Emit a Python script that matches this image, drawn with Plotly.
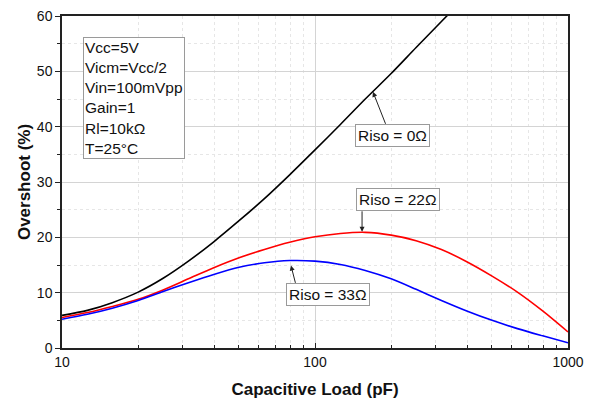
import plotly.graph_objects as go

# --------------------------------------------------
# DATA
# --------------------------------------------------

# capacitive load in pF, evenly spaced on the log axis
cap_load = [10, 12.6, 15.8, 20, 25.1, 31.6, 39.8, 50.1, 63.1, 79.4,
            100, 126, 158, 200, 251, 316, 398, 501, 631, 794, 1000]

overshoot_0 = [5.9, 6.8, 8.2, 10.1, 12.6, 15.7, 19.2, 23.0, 27.0, 31.3,
               35.8, 40.4, 45.0, 49.6, 54.3, 59.0, 63.7, None, None, None, None]
overshoot_22 = [5.5, 6.4, 7.5, 8.8, 10.5, 12.5, 14.5, 16.3, 17.8, 19.1,
                20.1, 20.7, 20.9, 20.4, 19.4, 17.8, 15.6, 13.0, 10.1, 6.7, 2.9]
overshoot_33 = [5.2, 6.1, 7.2, 8.6, 10.2, 11.8, 13.3, 14.6, 15.4, 15.8,
                15.7, 15.1, 14.0, 12.5, 10.6, 8.6, 6.7, 5.0, 3.5, 2.2, 0.95]

conditions = ["Vcc=5V", "Vicm=Vcc/2", "Vin=100mVpp", "Gain=1", "Rl=10kΩ", "T=25°C"]

FONT = "Liberation Sans, Arial, sans-serif"

# --------------------------------------------------
# FIGURE
# --------------------------------------------------

fig = go.Figure()

for y, color in [
    (overshoot_0, "#000000"),
    (overshoot_22, "#ff0000"),
    (overshoot_33, "#0000ff"),
]:
    fig.add_trace(
        go.Scatter(
            x=cap_load, y=y, mode="lines",
            line=dict(color=color, width=1.6, shape="spline", smoothing=0.8),
            showlegend=False
        )
    )

# conditions box
fig.add_annotation(
    text="<br>".join(conditions),
    xref="paper", yref="paper", x=0.0415, y=0.936,
    xanchor="left", yanchor="top", align="left", showarrow=False,
    font=dict(family=FONT, size=15.5, color="#111"),
    bordercolor="#9a9a9a", borderwidth=1, borderpad=1, bgcolor="white"
)

# label boxes (x in log10 units)
labels = [("Riso = 0Ω", 2.306, 38.4), ("Riso = 22Ω", 2.328, 26.9), ("Riso = 33Ω", 2.051, 9.7)]
for text, lx, ly in labels:
    fig.add_annotation(
        text=text, x=lx, y=ly, showarrow=False,
        font=dict(family=FONT, size=15.5, color="#111"),
        bordercolor="#9a9a9a", borderwidth=1, borderpad=2, bgcolor="white"
    )

# arrows: tip in data coords, tail offset in pixels
arrows = [(2.229, 46.3, 13, 33), (2.186, 21.0, 0, -21.5), (1.905, 14.9, 4.7, 18.3)]
for tx, ty, ax, ay in arrows:
    fig.add_annotation(
        text=" ", x=tx, y=ty, ax=ax, ay=ay, showarrow=True,
        font=dict(size=1), borderpad=0, standoff=0,
        arrowhead=2, arrowsize=1, arrowwidth=1, arrowcolor="#222"
    )

fig.update_layout(
    width=595, height=402,
    margin=dict(l=54, r=35, t=8, b=62),
    paper_bgcolor="white", plot_bgcolor="white",
    font=dict(family=FONT, size=14, color="#111"),
    xaxis=dict(
        type="log", range=[1, 3], dtick=1, automargin=False,
        ticklabeloverflow="allow",
        showline=True, linecolor="#222", linewidth=1.5, mirror=True,
        ticks="inside", ticklen=5, tickcolor="#222",
        showgrid=True, gridcolor="#d4d4d4", gridwidth=1,
        minor=dict(dtick="D1", ticks="inside", ticklen=3, tickcolor="#222",
                   showgrid=True, gridcolor="#e6e6e6", griddash="dot"),
        title=dict(text="<b>Capacitive Load (pF)</b>", font=dict(size=17), standoff=15),
        zeroline=False
    ),
    yaxis=dict(
        range=[0, 60], dtick=10, automargin=False,
        ticklabeloverflow="allow",
        showline=True, linecolor="#222", linewidth=1.5, mirror=True,
        ticks="outside", ticklen=5, tickcolor="#222",
        showgrid=True, gridcolor="#d4d4d4", gridwidth=1,
        minor=dict(dtick=5, ticks="outside", ticklen=3, tickcolor="#222",
                   showgrid=True, gridcolor="#e6e6e6", griddash="dot"),
        title=dict(text="<b>Overshoot (%)</b>", font=dict(size=17), standoff=2),
        zeroline=False
    )
)

fig.write_html("out.html")
